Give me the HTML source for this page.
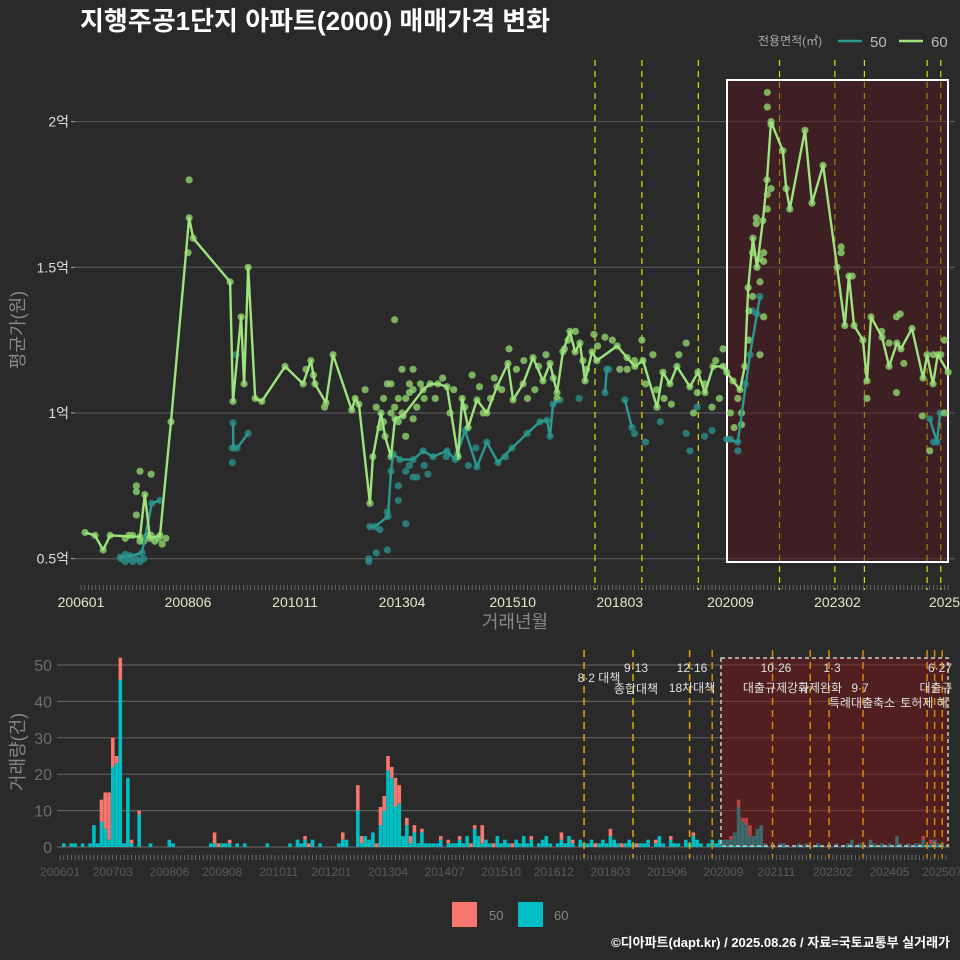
<!DOCTYPE html>
<html><head><meta charset="utf-8">
<style>
html,body{margin:0;padding:0;background:#2a2a2a;}
svg{display:block;font-family:"Liberation Sans","Noto Sans CJK KR",sans-serif;}
</style></head>
<body>
<svg id="c" width="960" height="960" viewBox="0 0 960 960">
<rect x="0" y="0" width="960" height="960" fill="#2a2a2a"/>
<text x="80" y="30" fill="#ffffff" font-size="26" font-weight="bold">지행주공1단지 아파트(2000) 매매가격 변화</text>
<g>
<text x="758" y="45" fill="#aaaaaa" font-size="12">전용면적(㎡)</text>
<line x1="838" y1="41" x2="862" y2="41" stroke="#2a9a8e" stroke-width="2.5"/>
<text x="870" y="47" fill="#bbbbbb" font-size="15">50</text>
<line x1="899" y1="41" x2="923" y2="41" stroke="#9ee37d" stroke-width="2.5"/>
<text x="931" y="47" fill="#bbbbbb" font-size="15">60</text>
</g>
<text transform="translate(24,330) rotate(-90)" text-anchor="middle" fill="#888888" font-size="18">평균가(원)</text>
<text x="515" y="628" text-anchor="middle" fill="#888888" font-size="18">거래년월</text>
<text transform="translate(24,752) rotate(-90)" text-anchor="middle" fill="#888888" font-size="18">거래량(건)</text>
<g id="topPanel"></g>
<g id="botPanel"></g>
<g>
<rect x="452" y="902" width="25" height="25" fill="#f8766d"/>
<text x="489" y="920" fill="#888888" font-size="13">50</text>
<rect x="518" y="902" width="25" height="25" fill="#00bfc4"/>
<text x="554" y="920" fill="#888888" font-size="13">60</text>
</g>
<text x="950" y="947" text-anchor="end" fill="#ffffff" font-size="13" font-weight="bold">©디아파트(dapt.kr) / 2025.08.26 / 자료=국토교통부 실거래가</text>
</svg>
<script>
// ===== price data (month index from 200601, value in 억) =====
const line60M=[1.1,3.8,6,7.9,16,17.3,18.7,21.4,24.4,29.3,30.4,40.4,41.2,43.4,44.2,45.3,47.2,49,55.3,60.2,62.3,63.4,66.4,68.3,73.4,74.3,75.3,78.3,79.1,81.3,82.4,84,85.1,87.3,92.7,94.6,96.7,99.2,102.2,103.3,104.9,107.3,110,112.7,115.7,117.1,119.8,122.5,125.2,127.1,129,130.6,132.5,133.9,135.2,136.6,138.5,139.8,145.3,148,150.1,152.3,156.1,157.7,159.6,161.5,165,167.2,169.1,171.3,174,175,176.7,178.6,179.9,180.8,182.1,183.2,184.8,185.9,187,190.2,191.1,192.1,196.2,198.1,201.1,204.9,207,208.1,209.5,211.9,213,214.1,217.1,219,221.1,222.2,225.2,228.2,229.3,230.9,232.2,235];
const line60V=[0.59,0.58,0.53,0.58,0.575,0.72,0.57,0.58,0.97,1.67,1.60,1.45,1.04,1.33,1.10,1.50,1.05,1.04,1.16,1.10,1.18,1.10,1.035,1.20,1.01,1.05,1.03,0.69,0.85,1.00,0.92,0.85,0.98,0.99,1.08,1.10,1.10,1.09,0.85,1.05,0.95,1.045,1.0,1.09,1.17,1.045,1.10,1.19,1.11,1.17,1.07,1.21,1.28,1.21,1.24,1.11,1.21,1.18,1.23,1.19,1.16,1.18,1.02,1.14,1.10,1.16,1.09,1.14,1.07,1.16,1.16,1.14,1.11,1.08,1.16,1.43,1.60,1.50,1.66,1.80,2.00,1.90,1.77,1.70,1.97,1.72,1.85,1.50,1.30,1.47,1.30,1.25,1.11,1.33,1.26,1.16,1.24,1.22,1.29,1.12,1.20,1.10,1.20,1.14];
const line50M=[10.6,13.3,16.5,19.2,21.4,null,41.2,41.3,42.3,45.3,null,78.3,79.7,83.2,84,84.6,86.4,90,92.7,95.4,99.2,101.4,104.1,107.3,110,113,116.8,120.9,124.4,126.3,127.1,127.9,129.8,null,142,142.5,null,147.4,149.3,null,175,178,181.3,183.2,184,null,230,232,232.8];
const line50V=[0.505,0.51,0.52,0.69,0.70,null,0.966,0.88,0.88,0.93,null,0.61,0.61,0.645,0.80,0.86,0.84,0.84,0.87,0.85,0.87,0.84,0.94,0.815,0.90,0.83,0.88,0.93,0.97,0.975,0.92,1.03,1.045,null,1.07,1.15,null,1.045,0.95,null,0.91,0.90,1.2,1.34,1.40,null,0.98,0.90,1.0];
const pts60M=[15,15,15,16,19,14,13,12,17,18,19,20,21,22,23,16,29.3,29,61,63,66,77,80,81,82,83,84,85,86,86,87,88,88,89,89,90,90,91,92,93,85,87,84,82,90,96,98,100,101,104,106,108,109,111,112,114,116,118,120,121,123,124,126,128,129,131,132,134,136,137,139,140,142,144,146,148,150,152,153,155,156,158,160,162,164,166,167,169,171,172,173,174,176,177,178,179,179,181,181,182,182,183,183,184,184,185,185,186,186,186,187,187,186,185,184,206,206,209,213,217,219,221,222,221,223,228,230,234,234,231,233];
const pts60V=[0.75,0.73,0.65,0.80,0.79,0.58,0.58,0.57,0.56,0.58,0.58,0.56,0.57,0.55,0.57,0.56,1.80,1.55,1.15,1.13,1.02,1.08,1.02,0.95,1.05,1.10,1.0,1.02,1.05,0.97,1.0,1.05,0.92,1.10,1.07,1.08,0.98,1.02,1.10,1.05,1.32,1.15,1.1,0.97,1.15,1.05,1.12,1.0,1.08,1.02,1.13,1.09,1.0,1.05,1.12,1.08,1.22,1.15,1.18,1.05,1.08,1.16,1.2,1.12,1.05,1.22,1.25,1.28,1.18,1.15,1.27,1.23,1.26,1.25,1.15,1.15,1.18,1.25,1.10,1.2,1.08,1.05,1.03,1.2,1.24,1.0,1.07,1.1,1.02,1.18,1.05,1.22,1.0,0.95,1.05,1.0,0.96,1.35,1.25,1.4,1.55,1.65,1.67,1.45,1.53,1.52,1.55,2.10,2.05,1.70,1.77,1.99,1.75,1.33,1.20,1.55,1.57,1.47,1.05,1.28,1.24,1.33,1.34,1.07,1.17,0.99,0.87,1.25,1.0,1.2,1.2];
const pts50M=[11,12,13,14,15,16,12,17,41,41,42,78,78,80,81,83,83,86,86,88,89,88,90,91,93,94,99,102,105,107,115,135,143,150,153,157,164,165,167,169,171,176,178,180,182,231];
const pts50V=[0.50,0.49,0.50,0.49,0.50,0.49,0.515,0.50,0.83,0.88,1.20,0.50,0.49,0.52,0.60,0.66,0.53,0.75,0.70,0.80,0.82,0.62,0.78,0.78,0.82,0.79,0.85,0.86,0.82,0.88,0.85,1.05,1.15,0.93,0.90,0.97,0.93,0.87,1.02,0.92,0.94,0.91,0.87,1.1,1.35,0.90];
const priceTicks=[0.5,1,1.5,2];
const priceTickLabels=["0.5억","1억","1.5억","2억"];
const topXLabels=["200601","200806","201011","201304","201510","201803","202009","202302","2025"];
const topXLabelMonths=[0,29,58,87,117,146,176,205,234];
const topEventMonths=[139.3,152,167.3,189.3,204.3,212.3,229.3,233];
// ===== volume data (monthly, from 200601 to 202507) =====
const vol60=[0,1,0,1,1,0,1,0,1,6, 1,7,5,2,22,23,46,1,19,1, 0,9,0,0,1,0,0,0,0,2, 1,0,0,0,0,0,0,0,0,0, 1,1,0,1,1,1,0,1,0,1, 0,0,0,0,0,1,0,0,0,0, 0,1,0,2,1,2,0,2,0,1, 0,0,0,0,1,2,2,0,0,10, 1,3,2,4,0,6,10,21,19,11, 12,3,6,1,4,1,4,1,1,1, 1,2,0,1,1,1,2,1,3,0, 5,3,1,2,1,0,3,1,2,1, 0,2,1,3,1,2,0,1,2,3, 1,0,1,2,1,3,1,0,2,1, 1,2,0,1,2,1,3,2,1,0, 1,2,1,0,1,1,2,0,1,3, 1,0,2,1,1,0,2,1,3,2, 1,0,1,2,1,2,2,2,2,4, 11,7,6,3,3,5,6,1,0,1, 0,1,1,0,0,0,1,0,1,0, 0,1,0,0,1,0,1,0,0,1, 2,0,1,1,0,2,1,0,1,0, 1,0,3,1,0,1,0,1,1,2, 0,1,2,1,1];
const vol50=[0,0,0,0,0,0,0,0,0,0, 0,6,10,13,8,2,6,0,0,1, 0,1,0,0,0,0,0,0,0,0, 0,0,0,0,0,0,0,0,0,0, 0,3,1,0,0,1,0,0,0,0, 0,0,0,0,0,0,0,0,0,0, 0,0,0,0,0,1,1,0,0,0, 0,0,0,0,0,2,0,0,0,7, 2,0,0,0,1,5,4,4,3,8, 5,0,2,2,2,0,1,0,0,0, 0,1,0,1,0,0,1,0,0,1, 1,0,5,0,0,1,0,0,0,0, 1,0,0,0,0,1,0,0,0,0, 0,0,0,2,0,0,1,0,0,0, 0,0,1,0,0,0,2,0,0,1, 0,0,0,1,0,0,0,0,1,0, 0,0,1,0,0,0,0,0,1,0, 0,0,0,0,0,0,0,0,1,0, 2,1,2,3,0,0,0,0,0,0, 0,0,0,0,0,0,0,0,0,0, 0,0,0,0,0,0,0,0,0,0, 0,0,0,0,0,0,0,0,0,0, 0,0,0,0,0,0,0,0,0,1, 0,1,0,0,0];
const volTicks=[0,10,20,30,40,50];
const botXLabels=["200601","200703","200806","200908","201011","201201","201304","201407","201510","201612","201803","201906","202009","202111","202302","202405","202507"];
const botEventMonths=[139,152,167,173,189,199,204,213,230,232,234];
const eventDates=["8·2","9·13","12·16","10·26","1·3","9·7","6·27"];
const eventNames=["8·2 대책","종합대책","18차대책","대출규제강화","규제완화","특례대출축소","토허제 해","대출규"];

const NS="http://www.w3.org/2000/svg";
function mk(parent,tag,attrs,text){const e=document.createElementNS(NS,tag);for(const k in attrs)e.setAttribute(k,attrs[k]);if(text!==undefined)e.textContent=text;parent.appendChild(e);return e;}
const ym=s=>(parseInt(s.slice(0,4))-2006)*12+parseInt(s.slice(4,6))-1;

const tx=m=>81+m*3.69;
const ty=v=>413-(v-1)*291.4;
const topG=document.getElementById('topPanel');
priceTicks.forEach((v,i)=>{
  const g=mk(topG,'line',{x1:75,x2:955,y1:ty(v),y2:ty(v),stroke:'#5e5e5e','stroke-width':1});
  
  
  const tk=mk(topG,'line',{x1:71,x2:75,y1:ty(v),y2:ty(v),stroke:'#aaa'});
  
  
  const t=mk(topG,'text',{x:69,y:ty(v)+5,'text-anchor':'end',fill:'#e0e0e0','font-size':14},priceTickLabels[i]);
  
  
});
for(let m=0;m<=235;m++){
  const l=mk(topG,'line',{x1:tx(m),x2:tx(m),y1:585,y2:590,stroke:'#777','stroke-width':0.8});
  
  
}
topXLabels.forEach((s,i)=>{
  const t=mk(topG,'text',{x:tx(topXLabelMonths[i]),y:607,'text-anchor':'middle',fill:'#e8e6c8','font-size':14},s);
  
  
});
topEventMonths.forEach(m=>{
  const l=mk(topG,'line',{x1:tx(m),x2:tx(m),y1:60,y2:590,stroke:'#e0e000','stroke-width':1.2,'stroke-dasharray':'6,5'});
  
  
});
const hb=mk(topG,'rect',{x:727,y:80,width:221,height:482,fill:'rgba(85,18,28,0.45)',stroke:'#ffffff','stroke-width':2});



function drawPts(M,V,color,name){
  M.forEach((m,i)=>{const c=mk(topG,'circle',{cx:tx(m),cy:ty(V[i]),r:3.6,fill:color,'fill-opacity':0.8});
    
    });
}
function drawLine(M,V,color,name){
  let d='',pen=false;
  M.forEach((m,i)=>{if(m===null){pen=false;return;}d+=(pen?'L':'M')+tx(m).toFixed(1)+','+ty(V[i]).toFixed(1);pen=true;});
  const p=mk(topG,'path',{d:d,fill:'none',stroke:color,'stroke-width':2.4,'stroke-linejoin':'round'});
  
  
}
drawPts(pts50M,pts50V,'#2b8f8c','point-50');
drawPts(line50M.filter(m=>m!==null),line50V.filter(v=>v!==null),'#2b8f8c','point-50');
drawPts(pts60M,pts60V,'#8fd46e','point-60');
drawPts(line60M,line60V,'#8fd46e','point-60');
drawLine(line50M,line50V,'#2a9a8e','line-50');
drawLine(line60M,line60V,'#9ee37d','line-60');

const bx=m=>60+m*3.77;
const by=v=>847-v*3.64;
const botG=document.getElementById('botPanel');
volTicks.forEach(v=>{
  const g=mk(botG,'line',{x1:57,x2:950,y1:by(v),y2:by(v),stroke:'#5e5e5e','stroke-width':1.2});
  
  
  const t=mk(botG,'text',{x:52,y:by(v)+6,'text-anchor':'end',fill:'#6e6e6e','font-size':16},String(v));
  
  
});
for(let m=0;m<=235;m++){
  const l=mk(botG,'line',{x1:bx(m),x2:bx(m),y1:855,y2:860,stroke:'#777','stroke-width':0.8});
  
  
}
botXLabels.forEach((s,i)=>{
  const t=mk(botG,'text',{x:bx(ym(s)),y:876,'text-anchor':'middle',fill:'#5a5a5a','font-size':12},s);
  
  
});
vol60.forEach((v,m)=>{
  const w=3.6,x=bx(m)-w/2;
  if(v>0){const r=mk(botG,'rect',{x:x,y:by(v),width:w,height:v*3.64,fill:'#00bfc4'});
    
    }
  const r5=vol50[m];
  if(r5>0){const r=mk(botG,'rect',{x:x,y:by(v+r5),width:w,height:r5*3.64,fill:'#f8766d'});
    
    }
});
const bb=mk(botG,'rect',{x:721,y:658,width:227,height:188,fill:'rgba(120,20,20,0.5)',stroke:'#cccccc','stroke-width':1.5,'stroke-dasharray':'4,3'});


botEventMonths.forEach((m,i)=>{
  const l=mk(botG,'line',{x1:bx(m),x2:bx(m),y1:650,y2:858,stroke:i<3?'#e8a800':'#d98a00','stroke-width':1.5,'stroke-dasharray':'7,5'});
  
  
});
const ann=[[599,682,eventNames[0]],[636,672,eventDates[1]],[636,693,eventNames[1]],[692,672,eventDates[2]],[692,692,eventNames[2]],[776,672,eventDates[3]],[776,692,eventNames[3]],[832,672,eventDates[4]],[820,692,eventNames[4]],[860,692,eventDates[5]],[862,707,eventNames[5]],[924,707,eventNames[6]],[940,672,eventDates[6]],[936,692,eventNames[7]]];
ann.forEach(a=>{
  const t=mk(botG,'text',{x:a[0],y:a[1],'text-anchor':'middle',fill:'#e0e0e0','font-size':12},a[2]);
  
  
});
</script>
</body></html>
